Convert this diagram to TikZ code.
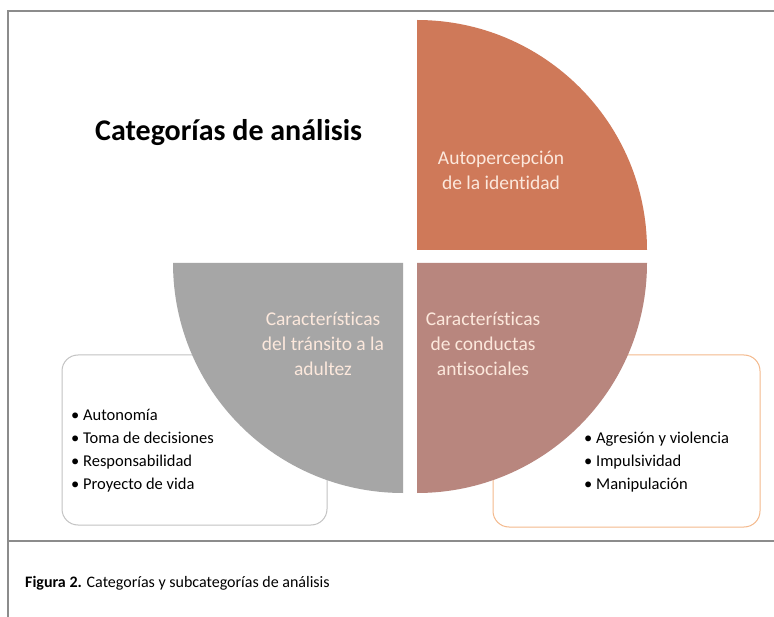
\documentclass[tikz,border=0pt]{standalone}
\usepackage{fontspec}
\setmainfont{Carlito}[Ligatures=NoCommon]
\definecolor{orangeq}{RGB}{207,121,89}
\definecolor{mauveq}{RGB}{184,134,126}
\definecolor{grayq}{RGB}{166,166,166}
\definecolor{peach}{RGB}{252,232,220}
\definecolor{framec}{RGB}{140,140,140}
\definecolor{boxgray}{RGB}{195,195,195}
\definecolor{boxorange}{RGB}{244,185,140}
\begin{document}
\begin{tikzpicture}[x=1pt,y=-1pt,
  frameline/.style={draw=framec,line width=2pt},
  listbox/.style={line width=1pt,rounded corners=16pt,fill=white},
  qlabel/.style={text=peach,align=center,font=\fontsize{19.5}{25}\selectfont,inner sep=0pt},
  listtext/.style={align=left,anchor=west,font=\fontsize{16.5}{23}\selectfont,inner sep=0pt}]
\useasboundingbox (0,0) rectangle (774,617);
\fill[white] (0,0) rectangle (774,617);
% frame
\draw[frameline] (8,617) -- (8,11) -- (774,11);
\draw[frameline] (8,541) -- (774,541);
% list boxes
\draw[listbox,draw=boxgray] (62,355) rectangle (327,525);
\draw[listbox,draw=boxorange] (493,355) rectangle (760,527);
% quarters
\fill[orangeq] (417,250) -- (417,20) arc[start angle=90,end angle=0,radius=230pt] -- cycle;
\fill[grayq] (403,263) -- (173,263) arc[start angle=180,end angle=270,radius=230pt] -- cycle;
\fill[mauveq] (417,263) -- (647,263) arc[start angle=0,end angle=-90,radius=230pt] -- cycle;
% title
\node[anchor=base west,inner sep=0pt,font=\fontsize{30}{34}\selectfont\bfseries] (title) at (95,141) {Categorías de análisis};
% quarter labels
\node[qlabel] (auto) at (501,170) {Autopercepción\\de la identidad};
\node[qlabel] (transito) at (323,344) {Características\\del tránsito a la\\adultez};
\node[qlabel] (conductas) at (483,344) {Características\\de conductas\\antisociales};
% lists
\node[listtext] (listL) at (71,451) {• Autonomía\\• Toma de decisiones\\• Responsabilidad\\• Proyecto de vida};
\node[listtext] (listR) at (584,462) {• Agresión y violencia\\• Impulsividad\\• Manipulación};
% caption
\node[anchor=west,inner sep=0pt,font=\fontsize{16}{20}\selectfont] (caption) at (25,583) {\textbf{Figura 2.} Categorías y subcategorías de análisis};
\end{tikzpicture}
\end{document}
